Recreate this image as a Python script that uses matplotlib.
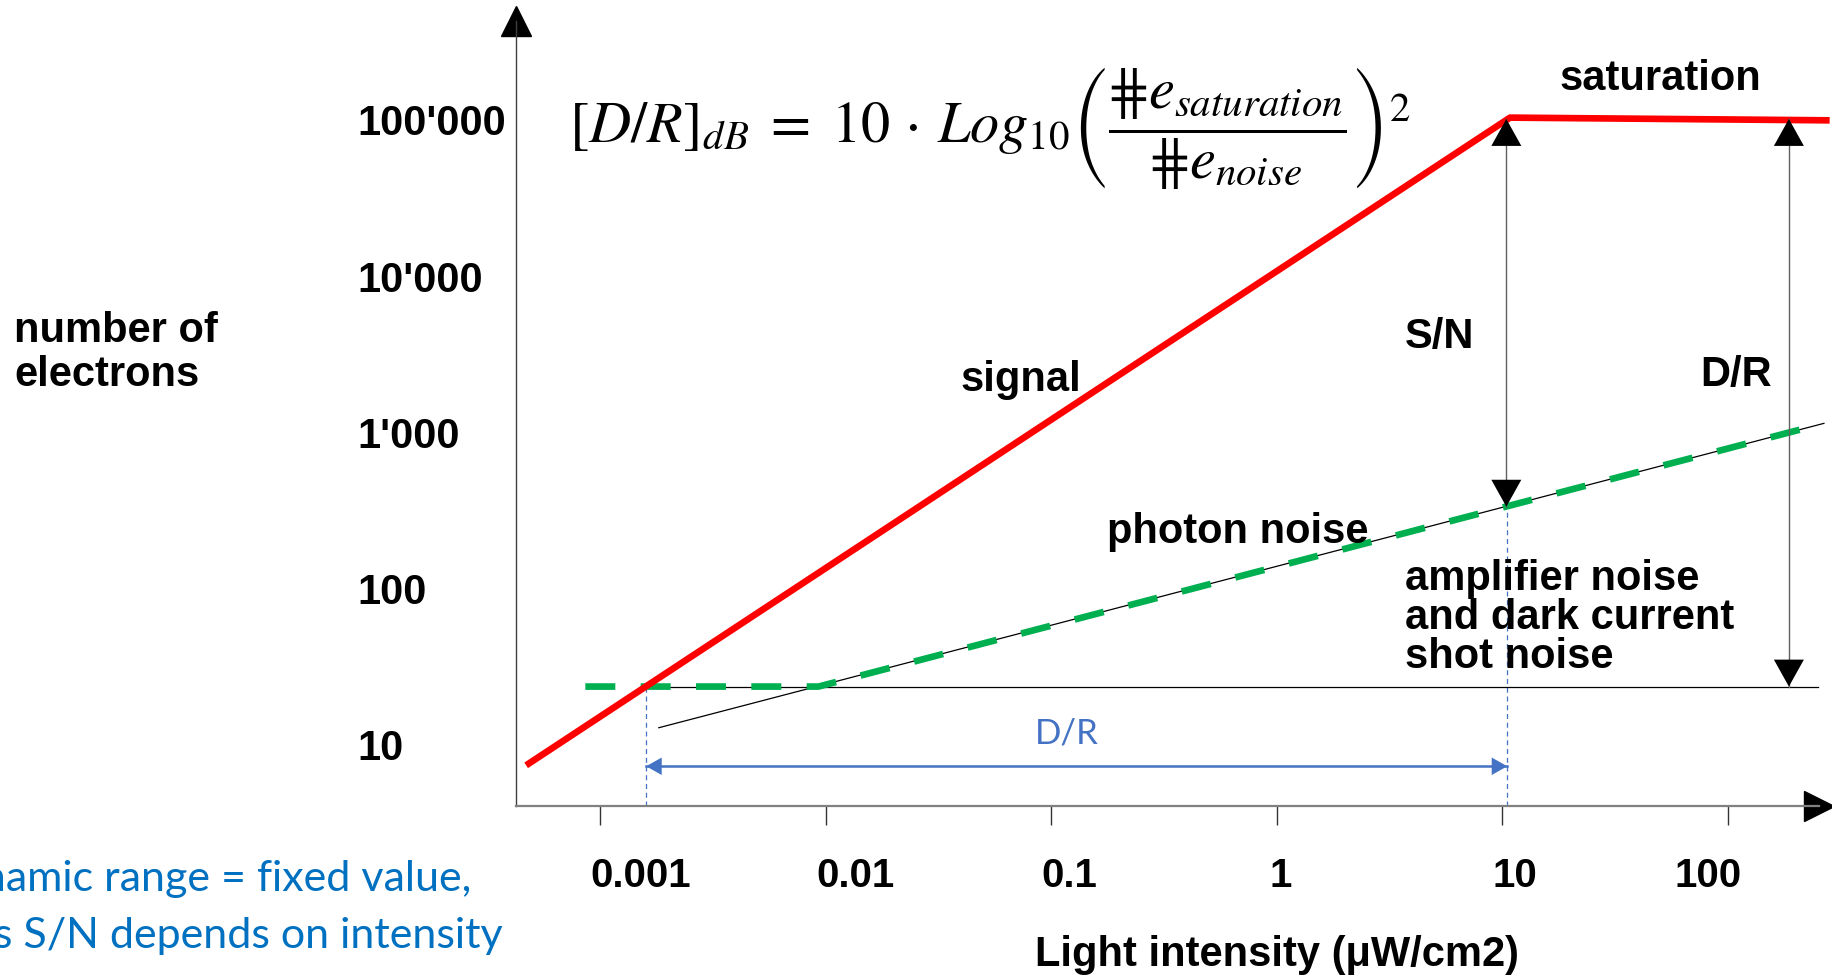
import matplotlib
matplotlib.use("Agg")
import matplotlib.pyplot as plt

plt.rcParams['font.family'] = ['Liberation Sans', 'DejaVu Sans']
plt.rcParams['mathtext.fontset'] = 'stix'

# values (x: light intensity in uW/cm2, y: number of electrons)
signal_x = [4.7e-4, 10.8, 282]
signal_y = [7.3, 1.02e5, 9.8e4]

# total noise: amplifier/dark floor, then photon noise
noise_x = [8.6e-4, 9.3e-3, 266]
noise_y = [23.3, 23.3, 1127]

# thin guide lines under the noise curve
photon_x = [1.82e-3, 266]
photon_y = [12.7, 1127]
floor_x = [1.57e-3, 250]
floor_y = [23.3, 23.3]

x_ticks = [0.001, 0.01, 0.1, 1, 10, 100]
x_tick_labels = ['0.001', '0.01', '0.1', '1', '10', '100']
# labels on the slide are not centred on their ticks
x_label_pos = [10 ** -2.82, 10 ** -1.867, 10 ** -0.92, 10 ** 0.018, 10 ** 1.053, 10 ** 1.911]
y_ticks = [10, 100, 1000, 10000, 100000]
y_tick_labels = ["10", "100", "1'000", "10'000", "100'000"]

# S/N and D/R arrows
sn_x = 10.4
sn_y = [1.0e5, 330]
dr_x = 186
dr_y = [1.0e5, 23.3]
# dynamic range span (blue)
range_x = [1.6e-3, 10.5]
range_y = 7.2
range_top = [23.3, 330]

x_lim = (10 ** -3.375, 10 ** 2.403)
y_lim = (10 ** 0.603, 10 ** 5.627)

W, H = 1833, 978
fig = plt.figure(figsize=(W / 100, H / 100), dpi=100)
ax = fig.add_axes([515.5 / W, 1 - 807 / H, (1819 - 515.5) / W, (807 - 22) / H])
ax.set_xscale('log')
ax.set_yscale('log')
ax.set_xlim(*x_lim)
ax.set_ylim(*y_lim)

for s in ['top', 'right']:
    ax.spines[s].set_visible(False)
ax.spines['left'].set_color('#404040')
ax.spines['left'].set_linewidth(1.0)
ax.spines['bottom'].set_color('#808080')
ax.spines['bottom'].set_linewidth(1.6)

# axis arrow heads
ax.plot(0, 1, marker='^', ms=21, color='black', transform=ax.transAxes, clip_on=False)
ax.plot(1, 0, marker='>', ms=21, color='black', transform=ax.transAxes, clip_on=False)

# ticks: marks on major, text on minor (offset like the slide)
ax.set_xticks(x_ticks)
ax.set_xticklabels([''] * len(x_ticks))
ax.set_xticks(x_label_pos, minor=True)
ax.set_xticklabels(x_tick_labels, minor=True)
ax.tick_params(axis='x', which='major', direction='out', length=13.5, width=1.0, color='#333333')
ax.tick_params(axis='x', which='minor', length=0, pad=36, labelsize=29)
for lab in ax.get_xticklabels(minor=True):
    lab.set_fontweight('bold')

ax.set_yticks(y_ticks)
ax.set_yticklabels(y_tick_labels)
ax.set_yticks([], minor=True)
ax.tick_params(axis='y', which='major', length=0, pad=114, labelsize=30)
for lab in ax.get_yticklabels():
    lab.set_fontweight('bold')
    lab.set_horizontalalignment('left')

# guide lines
ax.plot(photon_x, photon_y, color='black', lw=0.9, clip_on=False, zorder=2)
ax.plot(floor_x, floor_y, color='black', lw=0.9, clip_on=False, zorder=2)

# curves
ax.plot(noise_x, noise_y, color='#00B050', lw=4.8, linestyle=(0, (4.5, 3.8)),
        clip_on=False, zorder=3)
ax.plot(signal_x, signal_y, color='#FF0000', lw=4.8, clip_on=False, zorder=4,
        solid_capstyle='butt')

# blue dotted verticals and dynamic range arrow
ax.vlines(range_x, y_lim[0], range_top, color='#4472C4', lw=0.9,
          linestyles=(0, (4, 3)), zorder=1)
ax.plot(range_x, [range_y, range_y], color='#4472C4', lw=1.8)
ax.annotate('', xy=(range_x[0], range_y), xytext=(range_x[1], range_y),
            arrowprops=dict(arrowstyle='<|-|>,head_length=0.8,head_width=0.45',
                            mutation_scale=14, color='#4472C4', lw=0,
                            shrinkA=0, shrinkB=0))

# black S/N and D/R arrows: grey shaft, black heads
for ax_x, ys in [(sn_x, sn_y), (dr_x, dr_y)]:
    ax.plot([ax_x, ax_x], ys, color='#606060', lw=1.0, zorder=5)
    ax.annotate('', xy=(ax_x, ys[0]), xytext=(ax_x, ys[1]),
                arrowprops=dict(arrowstyle='<|-|>,head_length=0.97,head_width=0.54',
                                mutation_scale=20, color='black', lw=0,
                                shrinkA=0, shrinkB=0), zorder=6)

# labels (pixel positions taken from the slide)
def fx(px):
    return px / W

def fy(py):
    return 1 - py / H

bold = dict(fontsize=30, fontweight='bold', color='black')
fig.text(fx(1660), fy(79), 'saturation', ha='center', va='center', **bold)
fig.text(fx(1440), fy(337), 'S/N', ha='center', va='center', **bold)
fig.text(fx(1736), fy(375), 'D/R', ha='center', va='center', **bold)
fig.text(fx(1021), fy(380), 'signal', ha='center', va='center', **bold)
fig.text(fx(1238), fy(532), 'photon noise', ha='center', va='center', **bold)
fig.text(fx(1405), fy(618), 'amplifier noise\nand dark current\nshot noise',
         ha='left', va='center', linespacing=0.97, **bold)
fig.text(fx(14), fy(353), 'number of\nelectrons', ha='left', va='center',
         linespacing=1.13, **bold)
fig.text(fx(1277), fy(955), 'Light intensity (\u03bcW/cm2)', ha='center', va='center', **bold)

fig.text(fx(1067), fy(734), 'D/R', ha='center', va='center', fontsize=25,
         color='#4472C4', family=['Lato', 'DejaVu Sans'])

# mathtext does not take a plain '#', so a look-alike glyph is used
hs = '\u22d5'
formula = (r'$[D/R]_{dB}\;=\;10\,\cdot\,Log_{10}\left(\dfrac{' + hs + r'e_{saturation}}'
           r'{' + hs + r'e_{noise}}\right)^2$')
fig.text(fx(569), fy(128), formula, ha='left', va='center', fontsize=42)

# note at bottom left, cut off by the slide edge
blue = dict(fontsize=31, color='#0070C0', family=['Lato', 'DejaVu Sans'], va='center')
fig.text(fx(471), fy(879), 'Dynamic range = fixed value,', ha='right', **blue)
fig.text(fx(503), fy(936), 'whereas S/N depends on intensity', ha='right', **blue)
fig.text(fx(0), fy(998), '(and on the signal level)', ha='left', **blue)

plt.savefig('out.png', dpi=100)
